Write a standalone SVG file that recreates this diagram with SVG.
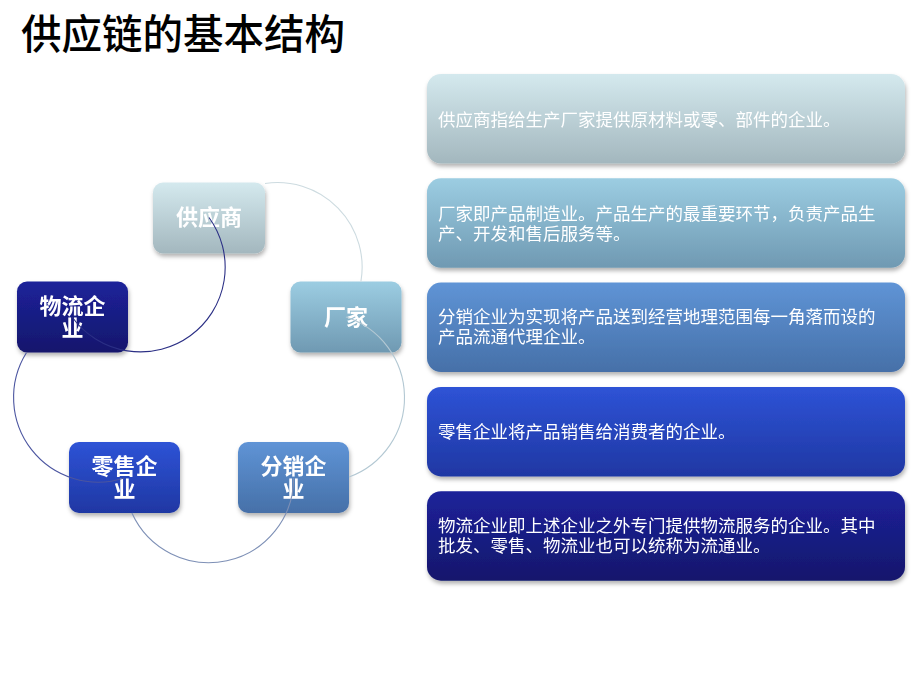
<svg xmlns="http://www.w3.org/2000/svg" width="920" height="690" viewBox="0 0 920 690">
<defs>
<linearGradient id="g1" x1="0" y1="0" x2="0" y2="1"><stop offset="0" stop-color="#d4e9ee"/><stop offset="1" stop-color="#a3b7be"/></linearGradient>
<linearGradient id="g2" x1="0" y1="0" x2="0" y2="1"><stop offset="0" stop-color="#9ccde2"/><stop offset="1" stop-color="#6f99b2"/></linearGradient>
<linearGradient id="g3" x1="0" y1="0" x2="0" y2="1"><stop offset="0" stop-color="#5f94d6"/><stop offset="1" stop-color="#4670a8"/></linearGradient>
<linearGradient id="g4" x1="0" y1="0" x2="0" y2="1"><stop offset="0" stop-color="#2e53d6"/><stop offset="1" stop-color="#1f37a3"/></linearGradient>
<linearGradient id="g5" x1="0" y1="0" x2="0" y2="1"><stop offset="0" stop-color="#1c229a"/><stop offset="1" stop-color="#15176c"/></linearGradient>
<filter id="sh" x="-10%" y="-10%" width="120%" height="130%"><feDropShadow dx="1" dy="3" stdDeviation="2" flood-color="#000" flood-opacity="0.3"/></filter>
</defs>
<style>
.title{font-family:"Noto Sans CJK SC","Noto Sans",sans-serif;font-size:40.5px;font-weight:500;fill:#000}
.nt{font-family:"Noto Sans CJK SC","Noto Sans",sans-serif;font-size:22px;font-weight:bold;fill:#fff;text-anchor:middle}
.pt{font-family:"Noto Sans CJK SC","Noto Sans",sans-serif;font-size:17.5px;fill:#fff}
.arc{fill:none;stroke-width:1.1}
</style>
<rect width="920" height="690" fill="#fff"/>
<text class="title" x="21" y="49">供应链的基本结构</text>

<g id="node-supplier" filter="url(#sh)"><rect x="153" y="182.5" width="112" height="71" rx="10" fill="url(#g1)"/><text class="nt" x="209" y="225">供应商</text></g>
<g id="node-factory" filter="url(#sh)"><rect x="290.5" y="281.5" width="111" height="71" rx="10" fill="url(#g2)"/><text class="nt" x="346" y="325">厂家</text></g>
<g id="node-distributor" filter="url(#sh)"><rect x="238" y="442" width="111" height="71" rx="10" fill="url(#g3)"/><text class="nt" x="293.5" y="473.5">分销企<tspan x="293.5" dy="23">业</tspan></text></g>
<g id="node-retail" filter="url(#sh)"><rect x="69" y="442" width="111" height="71" rx="10" fill="url(#g4)"/><text class="nt" x="124.5" y="473.5">零售企<tspan x="124.5" dy="23">业</tspan></text></g>
<g id="node-logistics" filter="url(#sh)"><rect x="17" y="281.5" width="111" height="71" rx="10" fill="url(#g5)"/><text class="nt" x="72.5" y="313.5">物流企<tspan x="72.5" dy="22.5">业</tspan></text></g>

<g id="connectors">
<path class="arc" stroke="#cddbe0" d="M265,183.5 A84.65,84.65 0 0 1 360.9,281.7"/>
<path class="arc" stroke="#b3c8d3" d="M345.95,317 A84.65,84.65 0 0 1 349,477"/>
<path class="arc" stroke="#7e90b6" d="M293.64,478 A84.65,84.65 0 0 1 131.9,513"/>
<path class="arc" stroke="#4b55a0" d="M124.36,478 A84.65,84.65 0 0 1 26.4,352.7"/>
<path class="arc" stroke="#2b2f85" d="M72.05,317 A84.65,84.65 0 0 0 190.27,335.73 A84.65,84.65 0 0 0 209,217.5"/>
</g>

<g id="panel-1" filter="url(#sh)"><rect x="427" y="74" width="478" height="89.5" rx="14" fill="url(#g1)"/><text class="pt" x="438" y="125.5">供应商指给生产厂家提供原材料或零、部件的企业。</text></g>
<g id="panel-2" filter="url(#sh)"><rect x="427" y="178.3" width="478" height="89.5" rx="14" fill="url(#g2)"/><text class="pt" x="438" y="219.6">厂家即产品制造业。产品生产的最重要环节，负责产品生<tspan x="438" dy="20">产、开发和售后服务等。</tspan></text></g>
<g id="panel-3" filter="url(#sh)"><rect x="427" y="282.6" width="478" height="89.5" rx="14" fill="url(#g3)"/><text class="pt" x="438" y="323.3">分销企业为实现将产品送到经营地理范围每一角落而设的<tspan x="438" dy="20">产品流通代理企业。</tspan></text></g>
<g id="panel-4" filter="url(#sh)"><rect x="427" y="386.9" width="478" height="89.5" rx="14" fill="url(#g4)"/><text class="pt" x="438" y="438.3">零售企业将产品销售给消费者的企业。</text></g>
<g id="panel-5" filter="url(#sh)"><rect x="427" y="491.2" width="478" height="89.5" rx="14" fill="url(#g5)"/><text class="pt" x="438" y="531.6">物流企业即上述企业之外专门提供物流服务的企业。其中<tspan x="438" dy="20.7">批发、零售、物流业也可以统称为流通业。</tspan></text></g>
</svg>
